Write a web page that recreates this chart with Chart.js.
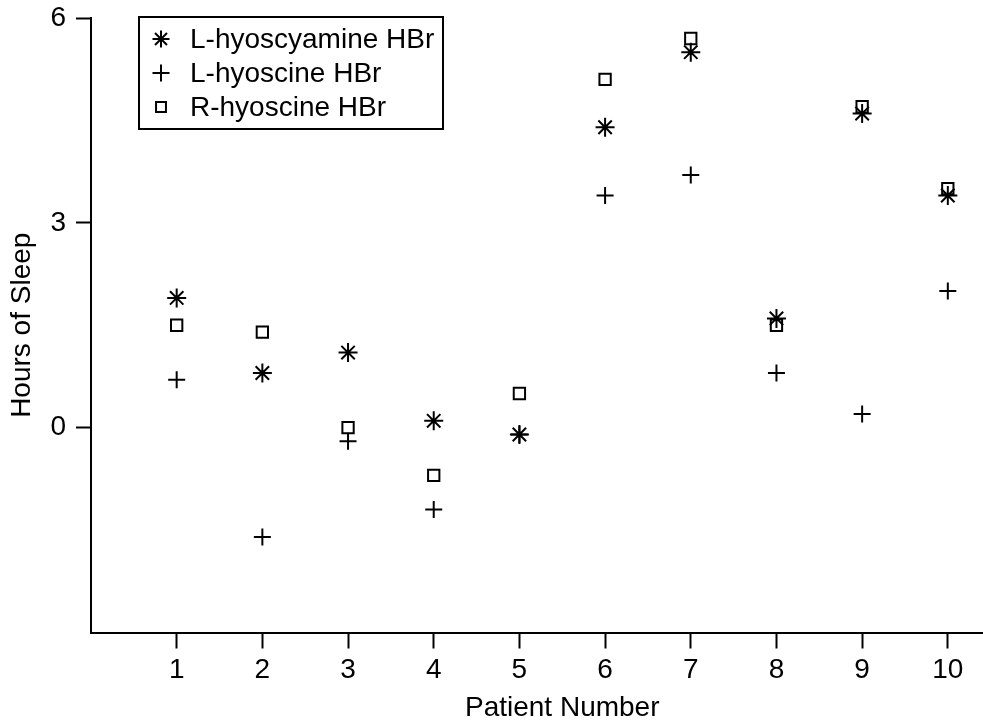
<!DOCTYPE html>
<html>
<head>
<meta charset="utf-8">
<script src="https://cdn.jsdelivr.net/npm/chart.js@4/dist/chart.umd.min.js"></script>
<style>
  html, body { margin: 0; padding: 0; background: #fff; overflow: hidden; }
  /* the axis runs past the right edge of the picture, so the canvas is wider than the window */
  #wrap { width: 1045px; height: 722px; }
</style>
</head>
<body>
<div id="wrap"><canvas id="sleepChart"></canvas></div>
<script>
// Cushny & Peebles: extra hours of sleep per patient
const patients = [1, 2, 3, 4, 5, 6, 7, 8, 9, 10];
const hyoscyamineL = [1.9, 0.8, 1.1, 0.1, -0.1, 4.4, 5.5, 1.6, 4.6, 3.4];
const hyoscineL = [0.7, -1.6, -0.2, -1.2, -0.1, 3.4, 3.7, 0.8, 0.2, 2.0];
const hyoscineR = [1.5, 1.4, 0.0, -0.7, 0.5, 5.1, 5.7, 1.5, 4.7, 3.5];

const seriesLabels = ['L-hyoscyamine HBr', 'L-hyoscine HBr', 'R-hyoscine HBr'];
const xTicks = [1, 2, 3, 4, 5, 6, 7, 8, 9, 10];
const yTicks = [0, 3, 6];

const FAMILY = '"Liberation Sans", Arial, Helvetica, sans-serif';
const FONT = { family: FAMILY, size: 28 };
const TITLE_FONT = { family: FAMILY, size: 28, lineHeight: 1 };

function toPoints(values) {
    return patients.map((p, i) => ({ x: p, y: values[i] }));
}

// legend with a black box, drawn inside the plot area
const boxedLegend = {
    id: 'boxedLegend',
    afterDraw(chart) {
        const ctx = chart.ctx;
        const left = 139, top = 17, w = 304, h = 112;
        ctx.save();
        ctx.strokeStyle = '#000';
        ctx.lineWidth = 2;
        ctx.strokeRect(left, top, w, h);
        ctx.font = FONT.size + 'px ' + FAMILY;
        ctx.textBaseline = 'middle';
        chart.data.datasets.forEach((ds, i) => {
            const y = top + 22 + i * 34;
            ctx.fillStyle = 'rgba(0,0,0,0)';
            ctx.strokeStyle = '#000';
            Chart.helpers.drawPoint(ctx, {
                pointStyle: ds.pointStyle,
                radius: ds.pointStyle === 'rect' ? 7 : 8.5,
                borderWidth: 2,
                rotation: 0
            }, left + 22, y);
            ctx.fillStyle = '#000';
            ctx.fillText(ds.label, left + 51, y + 1);
        });
        ctx.restore();
    }
};

const ctx = document.getElementById('sleepChart').getContext('2d');
const sleepChart = new Chart(ctx, {
    type: 'scatter',
    data: {
        datasets: [{
            label: seriesLabels[0],
            data: toPoints(hyoscyamineL),
            pointStyle: 'star',
            pointRadius: 9.5
        }, {
            label: seriesLabels[1],
            data: toPoints(hyoscineL),
            pointStyle: 'cross',
            pointRadius: 8.5
        }, {
            label: seriesLabels[2],
            data: toPoints(hyoscineR),
            pointStyle: 'rect',
            pointRadius: 8
        }].map(ds => Object.assign(ds, {
            borderColor: '#000',
            backgroundColor: 'rgba(0,0,0,0)',
            pointBorderWidth: 2,
            pointHoverRadius: ds.pointRadius,
            showLine: false
        }))
    },
    options: {
        responsive: true,
        maintainAspectRatio: false,
        animation: false,
        layout: { padding: { top: 18, right: 6, left: 0, bottom: 0 } },
        scales: {
            x: {
                type: 'linear',
                min: 0,
                max: 11,
                afterBuildTicks: s => { s.ticks = xTicks.map(v => ({ value: v })); },
                afterFit: s => { s.height = 89.5; s.paddingLeft = 0; s.paddingRight = 0; },
                grid: { display: true, drawOnChartArea: false, tickLength: 16, tickWidth: 2, tickColor: '#000' },
                border: { display: true, color: '#000', width: 2 },
                ticks: { color: '#000', font: FONT, padding: 5, maxRotation: 0 },
                title: { display: true, text: 'Patient Number', color: '#000', font: TITLE_FONT, padding: { top: 0, bottom: 0 } }
            },
            y: {
                min: -3,
                max: 6,
                afterBuildTicks: s => { s.ticks = yTicks.map(v => ({ value: v })); },
                afterFit: s => { s.width = 91; s.paddingTop = 0; s.paddingBottom = 0; },
                grid: { display: true, drawOnChartArea: false, tickLength: 15, tickWidth: 2, tickColor: '#000' },
                border: { display: true, color: '#000', width: 2 },
                ticks: { color: '#000', font: FONT, padding: 10 },
                title: { display: true, text: 'Hours of Sleep', color: '#000', font: TITLE_FONT, padding: { top: 8, bottom: 0 } }
            }
        },
        plugins: {
            legend: { display: false },
            tooltip: { enabled: false }
        }
    },
    plugins: [boxedLegend]
});
</script>
</body>
</html>
